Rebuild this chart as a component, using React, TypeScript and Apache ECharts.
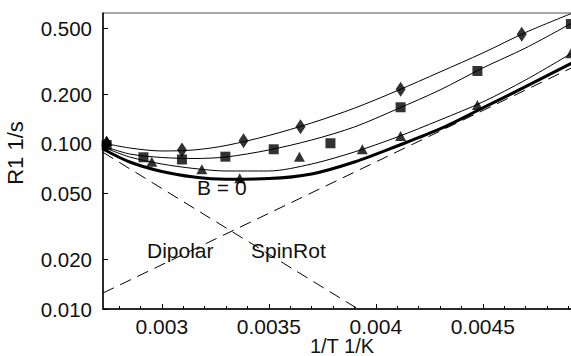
import React, { useEffect, useRef } from "react";
import * as echarts from "echarts";

// ---- data (1/T in 1/K, R1 in 1/s) ----
const curveX = [0.002725, 0.00285, 0.003, 0.00315, 0.0033, 0.0035, 0.0037, 0.0039, 0.0041, 0.0043, 0.0045, 0.0047, 0.004917];
const diamondCurve = [0.1014, 0.09457, 0.0907, 0.092, 0.0979, 0.1126, 0.1341, 0.1648, 0.2103, 0.2731, 0.356, 0.474, 0.62];
const squareCurve = [0.09725, 0.08698, 0.08283, 0.08168, 0.0834, 0.09197, 0.1057, 0.1268, 0.163, 0.2125, 0.2888, 0.3818, 0.5412];
const triangleCurve = [0.0959, 0.0834, 0.07563, 0.07104, 0.06861, 0.06861, 0.07563, 0.08944, 0.1102, 0.1398, 0.1797, 0.2443, 0.356];
const zeroFieldCurve = [0.09326, 0.07777, 0.06813, 0.0631, 0.06118, 0.0617, 0.0658, 0.07777, 0.09725, 0.1233, 0.1653, 0.2225, 0.3097];

const diamondX = [0.002742, 0.003094, 0.003382, 0.003648, 0.004116, 0.004682];
const diamondY = [0.101, 0.092, 0.1047, 0.1273, 0.2145, 0.4623];

const squareX = [0.002742, 0.002914, 0.003094, 0.003297, 0.003523, 0.003788, 0.004116, 0.004475, 0.004912];
const squareY = [0.09861, 0.08306, 0.08055, 0.08376, 0.09287, 0.101, 0.1669, 0.277, 0.5337];

const triangleX = [0.002742, 0.002953, 0.003187, 0.003364, 0.003643, 0.003937, 0.004116, 0.004475, 0.004912];
const triangleY = [0.1043, 0.07809, 0.07025, 0.06196, 0.08376, 0.09287, 0.1118, 0.1723, 0.3545];

const dipolarX = [0.002725, 0.003917];
const dipolarY = [0.089, 0.01];
const spinRotX = [0.002725, 0.004917];
const spinRotY = [0.0125, 0.29];

const yTicks = [0.01, 0.02, 0.05, 0.1, 0.2, 0.5];
const xTicks = [0.003, 0.0035, 0.004, 0.0045];
const xMinorTicks = [0.0028, 0.0029, 0.0031, 0.0032, 0.0033, 0.0034, 0.0036, 0.0037, 0.0038, 0.0039, 0.0041, 0.0042, 0.0043, 0.0044, 0.0046, 0.0047, 0.0048, 0.0049];

const X_MIN = 0.002725;
const X_MAX = 0.004917;
const Y_MIN = 0.01;
const Y_MAX = 0.622;

const FONT = '"Liberation Sans", Arial, sans-serif';

const pairs = (xs: number[], ys: number[]) => xs.map((x, i) => [x, Math.log10(ys[i])]);

export default function App() {
  const ref = useRef<HTMLDivElement>(null);
  useEffect(() => {
    if (!ref.current) return;
    const chart = echarts.init(ref.current, undefined, { renderer: "svg" });
    const thin = { color: "#000", width: 1 };
    const option: any = {
      animation: false,
      backgroundColor: "#fff",
      grid: {
        left: 103,
        top: 13,
        right: -1,
        bottom: 47,
        containLabel: false,
        outerBoundsMode: "none",
        show: true,
        borderColor: "#555",
        borderWidth: 1,
      },
      xAxis: [
        {
          type: "value",
          min: X_MIN,
          max: X_MAX,
          axisLine: { show: true, lineStyle: { color: "#000", width: 1.5 } },
          axisTick: { show: true, inside: true, length: 5, customValues: xTicks, lineStyle: { color: "#000" } },
          axisLabel: {
            customValues: xTicks,
            margin: 7,
            fontFamily: FONT,
            fontSize: 21,
            color: "#111",
            formatter: (v: number) => String(parseFloat(v.toFixed(4))),
          },
          splitLine: { show: false },
        },
        {
          type: "value",
          min: X_MIN,
          max: X_MAX,
          position: "bottom",
          axisLine: { show: false },
          axisTick: { show: true, inside: true, length: 3, customValues: xMinorTicks, lineStyle: { color: "#000" } },
          axisLabel: { show: false },
          splitLine: { show: false },
        },
      ],
      yAxis: {
        type: "value",
        min: Math.log10(Y_MIN),
        max: Math.log10(Y_MAX),
        axisLine: { show: true, lineStyle: { color: "#000", width: 1.5 } },
        axisTick: { show: true, inside: true, length: 5, customValues: yTicks.map((v) => Math.log10(v)), lineStyle: { color: "#000" } },
        axisLabel: {
          customValues: yTicks.map((v) => Math.log10(v)),
          margin: 11,
          fontFamily: FONT,
          fontSize: 20.5,
          color: "#111",
          formatter: (v: number) => Math.pow(10, v).toFixed(3),
        },
        splitLine: { show: false },
      },
      series: [
        { name: "Dipolar", type: "line", data: pairs(dipolarX, dipolarY), symbol: "none", lineStyle: { color: "#000", width: 1, type: [12, 7] } },
        { name: "SpinRot", type: "line", data: pairs(spinRotX, spinRotY), symbol: "none", lineStyle: { color: "#000", width: 1, type: [12, 7] } },
        { name: "diamondFit", type: "line", data: pairs(curveX, diamondCurve), symbol: "none", smooth: 0.3, lineStyle: thin },
        { name: "squareFit", type: "line", data: pairs(curveX, squareCurve), symbol: "none", smooth: 0.3, lineStyle: thin },
        { name: "triangleFit", type: "line", data: pairs(curveX, triangleCurve), symbol: "none", smooth: 0.3, lineStyle: thin },
        { name: "B = 0", type: "line", data: pairs(curveX, zeroFieldCurve), symbol: "none", smooth: 0.3, lineStyle: { color: "#000", width: 3 } },
        { name: "diamonds", type: "scatter", data: pairs(diamondX, diamondY), symbol: "diamond", symbolSize: [10, 15], itemStyle: { color: "#000" } },
        { name: "squares", type: "scatter", data: pairs(squareX, squareY), symbol: "rect", symbolSize: 10, itemStyle: { color: "#000" } },
        { name: "triangles", type: "scatter", data: pairs(triangleX, triangleY), symbol: "triangle", symbolSize: [11, 10], itemStyle: { color: "#000" } },
      ],
      graphic: [
        { type: "text", x: 15, y: 153, rotation: Math.PI / 2, style: { text: "R1 1/s", font: `22px ${FONT}`, fill: "#111", align: "center", verticalAlign: "middle" } },
        { type: "text", x: 342, y: 346, style: { text: "1/T 1/K", font: `20px ${FONT}`, lineHeight: 20, fill: "#111", align: "center", verticalAlign: "middle" } },
        { type: "text", x: 197, y: 187, style: { text: "B = 0", font: `21px ${FONT}`, fill: "#111", verticalAlign: "middle" } },
        { type: "text", x: 147, y: 250, style: { text: "Dipolar", font: `21px ${FONT}`, fill: "#111", verticalAlign: "middle" } },
        { type: "text", x: 251, y: 250, style: { text: "SpinRot", font: `21px ${FONT}`, fill: "#111", verticalAlign: "middle" } },
      ],
    };
    chart.setOption(option);
    return () => chart.dispose();
  }, []);
  return <div ref={ref} style={{ position: "fixed", left: 0, top: 0, width: 571, height: 356 }} />;
}
